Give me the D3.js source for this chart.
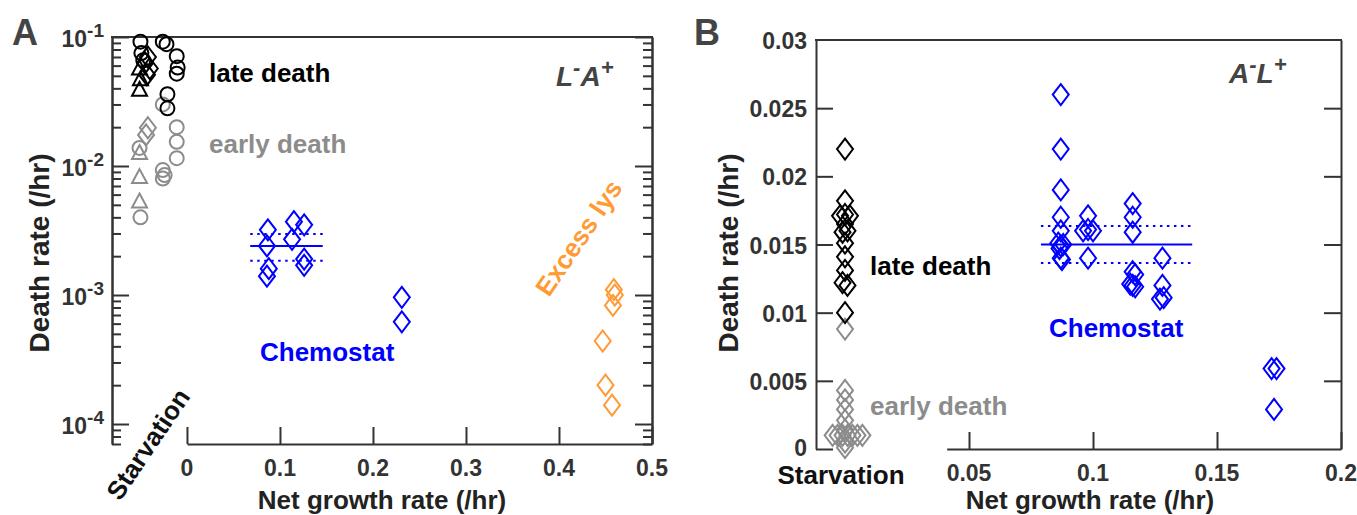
<!DOCTYPE html>
<meta charset="utf-8">
<script src="https://d3js.org/d3.v7.min.js"></script>
<style>
  body { margin: 0; background: #fff; }
  text { font-family: 'Liberation Sans', Arial, sans-serif; font-weight: bold; }
</style>
<body>
<div id="chart"></div>
<script>
  // ---- data (x = net growth rate, y = death rate, both /hr) ----
  // panel A, starvation points sit left of x = 0 (offsets only to spread them)
  var aLateCircles = [[-0.050,0.092],[-0.049,0.075],[-0.047,0.066],[-0.026,0.092],[-0.022,0.088],
                      [-0.011,0.071],[-0.010,0.058],[-0.011,0.052],[-0.021,0.036],[-0.021,0.028]];
  var aLateTriangles = [[-0.051,0.057],[-0.050,0.047],[-0.051,0.039]];
  var aLateDiamonds = [[-0.042,0.070],[-0.045,0.063],[-0.040,0.057],[-0.043,0.051]];
  var aEarlyCircles = [[-0.051,0.0138],[-0.050,0.0040],[-0.026,0.0093],[-0.024,0.0085],[-0.026,0.0080],
                       [-0.011,0.0200],[-0.011,0.0154],[-0.011,0.0115],[-0.026,0.0300]];
  var aEarlyTriangles = [[-0.051,0.0126],[-0.051,0.0082],[-0.051,0.0053]];
  var aEarlyDiamonds = [[-0.042,0.0198],[-0.044,0.0174]];
  var aChemostat = [[0.087,0.0032],[0.086,0.0024],[0.088,0.0016],[0.086,0.0014],
                    [0.115,0.0037],[0.113,0.0027],
                    [0.126,0.0035],[0.126,0.0019],[0.126,0.0017],
                    [0.231,0.00096],[0.231,0.00062]];
  var aExcessLys = [[0.459,0.00110],[0.460,0.00100],[0.458,0.00083],[0.447,0.00044],[0.450,0.00020],[0.457,0.00014]];
  var aMean = {x0: 0.068, x1: 0.146, mean: 0.0024, lo: 0.00184, hi: 0.00297};
  var aXTicks = [0, 0.1, 0.2, 0.3, 0.4, 0.5];
  var aYTicks = [1e-4, 1e-3, 1e-2, 1e-1];

  // panel B
  var bLate = [[0,0.022],[0,0.0182],[-0.002,0.0171],[0.002,0.0171],[0,0.0172],[0,0.0165],[0.001,0.0160],
               [-0.001,0.0159],[0,0.0151],[0,0.0141],[0,0.0131],[-0.001,0.0122],[0.001,0.0120],[0,0.0100]];
  var bEarly = [[0,0.0088],[0,0.0043],[0,0.0036],[0,0.0029],[0,0.0021],[0,0.0014],
                [-0.005,0.001],[-0.003,0.001],[-0.001,0.001],[0.001,0.001],[0.003,0.001],[0.005,0.001],[0.007,0.001],
                [0,0.0005],[0,0.0001]];
  var bChemostat = [[0.087,0.026],[0.087,0.022],[0.087,0.019],[0.087,0.017],[0.087,0.016],[0.086,0.0151],
                    [0.088,0.0150],[0.087,0.0149],[0.0865,0.0147],[0.087,0.0140],[0.0875,0.0139],
                    [0.098,0.0171],[0.096,0.0160],[0.098,0.0161],[0.100,0.0160],[0.098,0.0140],
                    [0.116,0.018],[0.116,0.017],[0.116,0.0159],[0.116,0.0130],[0.117,0.0128],
                    [0.115,0.0121],[0.116,0.0120],[0.117,0.0119],
                    [0.128,0.0140],[0.128,0.0120],[0.127,0.0110],[0.1285,0.0111],
                    [0.172,0.0059],[0.174,0.0059],[0.173,0.0029]];
  var bMean = {x0: 0.079, x1: 0.140, mean: 0.0150, lo: 0.01365, hi: 0.01635};
  var bXTicks = [0.05, 0.1, 0.15, 0.2];
  var bYTicks = [0, 0.005, 0.01, 0.015, 0.02, 0.025, 0.03];

  var axisCol = "#333", blue = "#0000ff", gray = "#8c8c8c", orange = "#ff9a35";

  var svg = d3.select("#chart").append("svg")
    .attr("width", 1357).attr("height", 515);

  // marker shapes
  var diamond = "M0,-10.5L8,0L0,10.5L-8,0Z";
  var triangle = "M0,-8L7.5,6L-7.5,6Z";

  function drawPaths(g, data, x, y, d, color) {
    g.selectAll(null).data(data).enter().append("path")
      .attr("d", d)
      .attr("transform", function (p) { return "translate(" + x(p[0]) + "," + y(p[1]) + ")"; })
      .attr("fill", "none").attr("stroke", color).attr("stroke-width", 2);
  }
  function drawCircles(g, data, x, y, color) {
    g.selectAll(null).data(data).enter().append("circle")
      .attr("cx", function (p) { return x(p[0]); })
      .attr("cy", function (p) { return y(p[1]); })
      .attr("r", 7)
      .attr("fill", "none").attr("stroke", color).attr("stroke-width", 2);
  }
  function meanLines(g, m, x, y) {
    g.append("line").attr("x1", x(m.x0)).attr("x2", x(m.x1)).attr("y1", y(m.mean)).attr("y2", y(m.mean))
      .attr("stroke", blue).attr("stroke-width", 2);
    [m.lo, m.hi].forEach(function (v) {
      g.append("line").attr("x1", x(m.x0)).attr("x2", x(m.x1)).attr("y1", y(v)).attr("y2", y(v))
        .attr("stroke", blue).attr("stroke-width", 2).attr("stroke-dasharray", "2.5,4.5");
    });
  }
  function styleAxis(sel) {
    sel.selectAll("path").attr("stroke", axisCol).attr("stroke-width", 2);
    sel.selectAll("line").attr("stroke", axisCol).attr("stroke-width", 2);
    sel.selectAll("text").remove();
  }
  function label(g, txt, x, y, size, color, anchor) {
    return g.append("text").attr("x", x).attr("y", y).attr("font-size", size)
      .attr("fill", color).attr("text-anchor", anchor || "start").text(txt);
  }
  function supLabel(g, parts, x, y) {
    // parts: [main, sup, main, sup], italic
    var t = g.append("text").attr("x", x).attr("y", y).attr("font-size", 28)
      .attr("font-style", "italic").attr("fill", "#444");
    parts.forEach(function (p, i) {
      var s = t.append("tspan").text(p);
      if (i % 2 === 1) s.attr("font-size", 22).attr("dy", -11);
      else if (i > 0) s.attr("dy", 11);
    });
  }

  // ================= Panel A =================
  var gA = svg.append("g");
  var xA = d3.scaleLinear().domain([-0.0806, 0.5]).range([112, 652]);
  var yA = d3.scaleLog().domain([7e-5, 0.1]).range([444, 37]);
  var xAaxis = d3.scaleLinear().domain([0, 0.5]).range([xA(0), xA(0.5)]);

  var minorA = [];
  [1e-5, 1e-4, 1e-3, 1e-2].forEach(function (dec) {
    for (var k = 2; k <= 9; k++) { var v = k * dec; if (v >= 7e-5 && v < 0.1) minorA.push(v); }
  });

  gA.append("g").attr("transform", "translate(112,0)")
    .call(d3.axisLeft(yA).tickValues(aYTicks).tickSize(-17).tickSizeOuter(0)).call(styleAxis);
  gA.append("g").attr("transform", "translate(112,0)")
    .call(d3.axisLeft(yA).tickValues(minorA).tickSize(-9).tickSizeOuter(0)).call(styleAxis);
  gA.append("g").attr("transform", "translate(652,0)")
    .call(d3.axisRight(yA).tickValues(aYTicks).tickSize(-17).tickSizeOuter(0)).call(styleAxis);
  gA.append("g").attr("transform", "translate(652,0)")
    .call(d3.axisRight(yA).tickValues(minorA).tickSize(-9).tickSizeOuter(0)).call(styleAxis);
  gA.append("g").attr("transform", "translate(0,444)")
    .call(d3.axisBottom(xAaxis).tickValues(aXTicks).tickSize(-17).tickSizeOuter(0)).call(styleAxis);
  gA.append("line").attr("x1", 111).attr("x2", 653).attr("y1", 37).attr("y2", 37)
    .attr("stroke", axisCol).attr("stroke-width", 2);

  // y tick labels 10^-n
  aYTicks.forEach(function (v) {
    var t = gA.append("text").attr("x", 104).attr("y", yA(v) + 10).attr("font-size", 23)
      .attr("fill", axisCol).attr("text-anchor", "end");
    t.append("tspan").text("10");
    t.append("tspan").text("-" + Math.round(-Math.log10(v))).attr("font-size", 19).attr("dy", -10);
  });
  aXTicks.forEach(function (v) {
    label(gA, String(v), xAaxis(v), 476, 23, axisCol, "middle");
  });

  // marks
  drawCircles(gA, aEarlyCircles, xA, yA, gray);
  drawPaths(gA, aEarlyTriangles, xA, yA, triangle, gray);
  drawPaths(gA, aEarlyDiamonds, xA, yA, diamond, gray);
  drawCircles(gA, aLateCircles, xA, yA, "#000");
  drawPaths(gA, aLateTriangles, xA, yA, triangle, "#000");
  drawPaths(gA, aLateDiamonds, xA, yA, diamond, "#000");
  drawPaths(gA, aChemostat, xA, yA, diamond, blue);
  meanLines(gA, aMean, xA, yA);
  drawPaths(gA, aExcessLys, xA, yA, diamond, orange);

  // text
  label(gA, "A", 12, 45, 36, "#444");
  label(gA, "late death", 209, 82, 26, "#000");
  label(gA, "early death", 209, 153, 26, gray);
  label(gA, "Chemostat", 260, 361, 26, blue);
  label(gA, "Excess lys", 0, 0, 26, orange).attr("transform", "translate(549,298) rotate(-56)");
  label(gA, "Starvation", 0, 0, 26, "#111").attr("transform", "translate(120,502) rotate(-56)");
  supLabel(gA, ["L", "-", "A", "+"], 556, 86);
  label(gA, "Net growth rate (/hr)", 382, 509, 26, "#222", "middle");
  label(gA, "Death rate (/hr)", 0, 0, 28, "#222", "middle").attr("transform", "translate(49,253) rotate(-90)");

  // ================= Panel B =================
  var gB = svg.append("g");
  var xB = d3.scaleLinear().domain([-0.0117, 0.2]).range([816, 1341]);
  var yB = d3.scaleLinear().domain([0, 0.03]).range([449, 40]);
  var xBaxis = d3.scaleLinear().domain([0.041, 0.2]).range([xB(0.041), xB(0.2)]);

  gB.append("g").attr("transform", "translate(816,0)")
    .call(d3.axisLeft(yB).tickValues(bYTicks.slice(0, 6)).tickSize(-17).tickSizeOuter(0)).call(styleAxis);
  gB.append("g").attr("transform", "translate(1341,0)")
    .call(d3.axisRight(yB).tickValues(bYTicks.slice(1, 6)).tickSize(-17).tickSizeOuter(0)).call(styleAxis);
  gB.append("g").attr("transform", "translate(0,449)")
    .call(d3.axisBottom(xBaxis).tickValues(bXTicks).tickSize(-17).tickSizeOuter(0)).call(styleAxis);
  gB.append("line").attr("x1", 815).attr("x2", 1342).attr("y1", 40).attr("y2", 40)
    .attr("stroke", axisCol).attr("stroke-width", 2);

  bYTicks.forEach(function (v) {
    label(gB, String(v), 807, yB(v) + (v === 0 ? 7 : 9), 23, axisCol, "end");
  });
  bXTicks.forEach(function (v) {
    label(gB, String(v), xBaxis(v), 481, 23, axisCol, "middle");
  });

  drawPaths(gB, bEarly, xB, yB, diamond, gray);
  drawPaths(gB, bLate, xB, yB, diamond, "#000");
  drawPaths(gB, bChemostat, xB, yB, diamond, blue);
  meanLines(gB, bMean, xB, yB);

  label(gB, "B", 694, 45, 36, "#444");
  label(gB, "late death", 870, 275, 26, "#000");
  label(gB, "early death", 870, 415, 26, gray);
  label(gB, "Chemostat", 1049, 337, 26, blue);
  label(gB, "Starvation", 841, 484, 26, "#111", "middle");
  supLabel(gB, ["A", "-", "L", "+"], 1229, 83);
  label(gB, "Net growth rate (/hr)", 1090, 509, 26, "#222", "middle");
  label(gB, "Death rate (/hr)", 0, 0, 28, "#222", "middle").attr("transform", "translate(738,253) rotate(-90)");
</script>
</body>
